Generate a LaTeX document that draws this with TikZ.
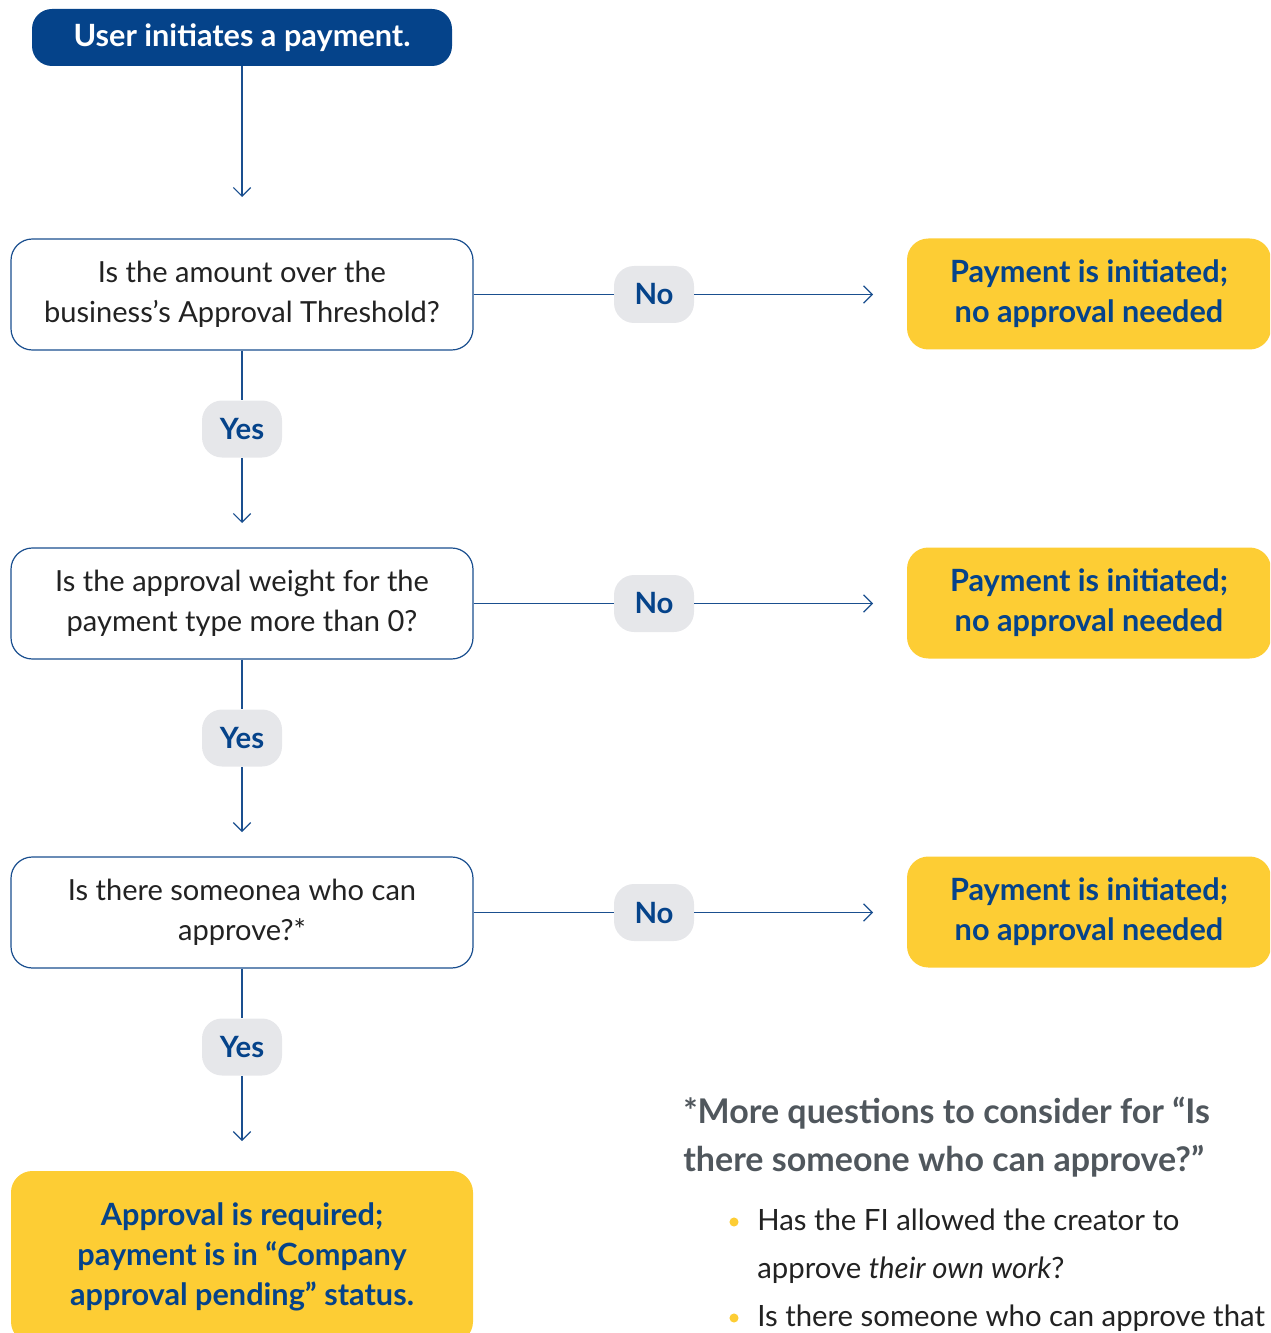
\documentclass[tikz,border=0pt]{standalone}
\usepackage{fontspec}
\setmainfont{Lato}
\usetikzlibrary{arrows.meta}
\definecolor{navy}{HTML}{05438A}
\definecolor{linkblue}{HTML}{1A4F8F}
\definecolor{pillgray}{HTML}{E6E7EA}
\definecolor{sunyellow}{HTML}{FDCD34}
\definecolor{notegray}{HTML}{50575D}
\definecolor{bodyink}{HTML}{222222}
\begin{document}
\begin{tikzpicture}[x=0.75pt, y=-0.75pt, >={Straight Barb[length=6.5pt,width=13pt]},
  line/.style={draw=linkblue, line width=0.9pt},
  startbox/.style={fill=navy, text=white, rounded corners=15pt, minimum width=315pt,
    minimum height=42.75pt, font=\fontsize{23}{30}\selectfont\bfseries},
  question/.style={draw=linkblue, line width=0.9pt, fill=white, rounded corners=16pt,
    minimum width=346.5pt, minimum height=83.25pt, align=center, text=bodyink,
    font=\fontsize{21.8}{30}\selectfont},
  answer/.style={fill=pillgray, text=navy, rounded corners=15pt, minimum width=60pt,
    minimum height=42.75pt, font=\fontsize{22}{30}\selectfont\bfseries},
  result/.style={fill=sunyellow, text=navy, rounded corners=16pt, minimum width=273pt,
    minimum height=83.25pt, align=center, font=\fontsize{23}{30}\selectfont\bfseries},
  notetext/.style={inner sep=0pt, align=left, anchor=west}]
  \useasboundingbox (0,0) rectangle (1270,1333);
  \clip (0,0) rectangle (1270,1333);

  % main column
  \node[startbox] (start) at (242,37.5) {User initiates a payment.};
  \node[question] (amount) at (242,294.5) {Is the amount over the\\business’s Approval Threshold?};
  \node[answer] (yesamount) at (242,429) {Yes};
  \node[question] (weight) at (242,603.5) {Is the approval weight for the\\payment type more than 0?};
  \node[answer] (yesweight) at (242,738) {Yes};
  \node[question] (approver) at (242,912.5) {Is there someonea who can\\approve?*};
  \node[answer] (yesapprover) at (242,1047) {Yes};
  \node[result, minimum width=346.5pt, minimum height=129pt] (required) at (242,1257)
    {Approval is required;\\payment is in “Company\\approval pending” status.};

  % no branches
  \node[answer] (noamount) at (654,294.5) {No};
  \node[answer] (noweight) at (654,603.5) {No};
  \node[answer] (noapprover) at (654,912.5) {No};
  \node[result] (okamount) at (1089,294) {Payment is initiated;\\no approval needed};
  \node[result] (okweight) at (1089,603) {Payment is initiated;\\no approval needed};
  \node[result] (okapprover) at (1089,912) {Payment is initiated;\\no approval needed};

  \coordinate (toamount) at (242,197);
  \coordinate (toweight) at (242,523);
  \coordinate (toapprover) at (242,832);
  \coordinate (torequired) at (242,1141);
  \coordinate (tookamount) at (873,294.5);
  \coordinate (tookweight) at (873,603.5);
  \coordinate (tookapprover) at (873,912.5);

  \draw[line,->] (start) -- (toamount);
  \draw[line] (amount) -- (yesamount);
  \draw[line,->] (yesamount) -- (toweight);
  \draw[line] (weight) -- (yesweight);
  \draw[line,->] (yesweight) -- (toapprover);
  \draw[line] (approver) -- (yesapprover);
  \draw[line,->] (yesapprover) -- (torequired);
  \draw[line] (amount) -- (noamount);
  \draw[line,->] (noamount) -- (tookamount);
  \draw[line] (weight) -- (noweight);
  \draw[line,->] (noweight) -- (tookweight);
  \draw[line] (approver) -- (noapprover);
  \draw[line,->] (noapprover) -- (tookapprover);

  % footnote
  \node[notetext, text=notegray, font=\fontsize{25.5}{36}\selectfont\bfseries] (notehead) at (683,1137)
    {*More questions to consider for “Is\\there someone who can approve?”};
  \fill[sunyellow] (734,1222) circle[radius=3.4pt];
  \fill[sunyellow] (734,1318) circle[radius=3.4pt];
  \node[notetext, text=bodyink, font=\fontsize{22}{36}\selectfont] (noteone) at (757,1246)
    {Has the FI allowed the creator to\\approve \textit{their own work}?};
  \node[notetext, text=bodyink, font=\fontsize{22}{36}\selectfont] (notetwo) at (757,1318)
    {Is there someone who can approve that};
\end{tikzpicture}
\end{document}
